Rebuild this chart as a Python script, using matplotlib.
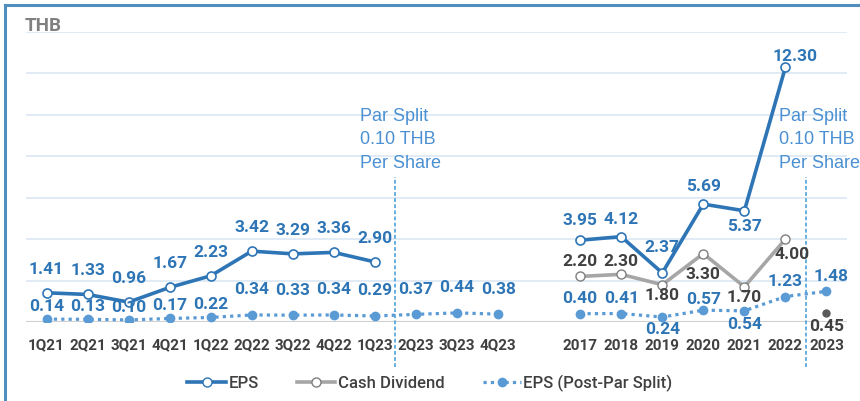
import matplotlib
matplotlib.use("Agg")
import matplotlib.pyplot as plt
import numpy as np
from matplotlib.lines import Line2D

# ---- data ----
quarters = ["1Q21", "2Q21", "3Q21", "4Q21", "1Q22", "2Q22", "3Q22", "4Q22",
            "1Q23", "2Q23", "3Q23", "4Q23"]
years = ["2017", "2018", "2019", "2020", "2021", "2022", "2023"]

eps_q = [1.41, 1.33, 0.96, 1.67, 2.23, 3.42, 3.29, 3.36, 2.90, None, None, None]
eps_y = [3.95, 4.12, 2.37, 5.69, 5.37, 12.30, None]
div_y = [2.20, 2.30, 1.80, 3.30, 1.70, 4.00, None]
div_2023 = 0.45
post_q = [0.14, 0.13, 0.10, 0.17, 0.22, 0.34, 0.33, 0.34, 0.29, 0.37, 0.44, 0.38]
post_y = [0.40, 0.41, 0.24, 0.57, 0.54, 1.23, 1.48]

# ---- label offsets (points) : (dx, dy) ----
eps_q_off = [(0, 17)] * 9
eps_y_off = [(0, 14), (0, 12), (0, 18), (0, 13), (0, -11), (7, 8)]
div_y_off = [(0, 11), (0, 9), (0, -8), (0, -15), (0, -8), (5, -11)]
post_q_off = [(0, 9)] * 5 + [(0, 18)] * 7
post_y_off = [(0, 11), (0, 11), (0, -9), (0, 8), (0, -10), (0, 11), (3, 11)]

EPS_C = "#2e75b6"
POST_C = "#5b9bd5"
DIV_C = "#a6a6a6"
LBL_BLUE = "#2e75b6"
LBL_DARK = "#404040"
SPLIT_C = "#4a90d2"

NUM_FONT = ["Roboto", "DejaVu Sans"]

fig = plt.figure(figsize=(8.6, 4.01), dpi=100)
ax = fig.add_axes([26 / 860, 79 / 401, 821 / 860, 290 / 401])

nq = len(quarters)
xq = np.arange(nq)
xy = np.arange(len(years)) + nq + 1

def to_arr(v):
    return np.array([np.nan if a is None else a for a in v], dtype=float)

ax.set_xlim(-0.5, nq + len(years) + 0.5)
ax.set_ylim(0, 14)
for g in range(2, 15, 2):
    ax.axhline(g, color="#dce7f5", lw=1.2, zorder=0)
ax.axhline(0, color="#d0d0d0", lw=1.5, zorder=0)

for s in ax.spines.values():
    s.set_visible(False)
ax.set_yticks([])
ax.set_xticks(list(xq) + list(xy))
ax.set_xticklabels(quarters + years, fontsize=11, fontweight="bold",
                   color=LBL_DARK, family=NUM_FONT)
ax.tick_params(axis="x", length=0, pad=12)

# lines
ax.plot(xq, to_arr(eps_q), color=EPS_C, lw=2.6, marker="o", ms=6.5,
        mfc="white", mec=EPS_C, mew=1.2, zorder=4)
ax.plot(xy, to_arr(eps_y), color=EPS_C, lw=2.6, marker="o", ms=6.5,
        mfc="white", mec=EPS_C, mew=1.2, zorder=4)
ax.plot(xy, to_arr(div_y), color=DIV_C, lw=2.6, marker="o", ms=6.5,
        mfc="white", mec="#7f7f7f", mew=1.0, zorder=3)
ax.plot([xy[-1]], [div_2023], linestyle="none", marker="o", ms=5,
        color="#595959", zorder=3)
ax.plot(xq, post_q, color=POST_C, lw=2.3, ls=(0, (1, 1.3)), marker="o",
        ms=6, mfc=POST_C, mec=POST_C, zorder=3)
ax.plot(xy, post_y, color=POST_C, lw=2.3, ls=(0, (1, 1.3)), marker="o",
        ms=6, mfc=POST_C, mec=POST_C, zorder=3)

def label(xs, vals, offs, color):
    for x, v, o in zip(xs, vals, offs):
        if v is None:
            continue
        ax.annotate(f"{v:.2f}", (x, v), xytext=o, textcoords="offset points",
                    ha="center", va="center", fontsize=12.5, fontweight="bold",
                    color=color, family=NUM_FONT, zorder=6)

label(xq, eps_q, eps_q_off, LBL_BLUE)
label(xy, eps_y, eps_y_off, LBL_BLUE)
label(xy, div_y, div_y_off, LBL_DARK)
label([xy[-1]], [div_2023], [(0, -10)], LBL_DARK)
label(xq, post_q, post_q_off, LBL_BLUE)
label(xy, post_y, post_y_off, LBL_BLUE)

# par split markers
trans = ax.get_xaxis_transform()
for xv in (8.5, nq + len(years) - 0.5):
    ax.plot([xv, xv], [-0.155, 0.5], transform=trans, color="#3c9ad8",
            lw=1.1, ls=(0, (2.5, 1.5)), clip_on=False, zorder=2)
for xv in (7.64, 17.84):
    ax.text(xv, 10.35, "Par Split\n0.10 THB\nPer Share", ha="left", va="top",
            fontsize=13, color=SPLIT_C, family="Liberation Sans",
            linespacing=1.5)

fig.text(25 / 860, 1 - 26 / 401, "THB", fontsize=13.5, fontweight="bold",
         color="#808080", va="center", ha="left", family=NUM_FONT)

# frame lines (top and left)
fig.add_artist(Line2D([5 / 860, 1], [1 - 5 / 401] * 2, color="#4f8fc0",
                      lw=2.2, transform=fig.transFigure))
fig.add_artist(Line2D([5 / 860] * 2, [0, 1 - 5 / 401], color="#4f8fc0",
                      lw=2.2, transform=fig.transFigure))

handles = [
    Line2D([], [], color=EPS_C, lw=2.6, marker="o", ms=6.5, mfc="white",
           mec=EPS_C),
    Line2D([], [], color=DIV_C, lw=2.6, marker="o", ms=6.5, mfc="white",
           mec="#7f7f7f"),
    Line2D([], [], color=POST_C, lw=2.3, ls=(0, (1, 1.3)), marker="o", ms=6,
           mfc=POST_C, mec=POST_C),
]
fig.legend(handles, ["EPS", "Cash Dividend", "EPS (Post-Par Split)"],
           loc="center", bbox_to_anchor=(0.5, 1 - 383 / 401), ncol=3,
           frameon=False, handlelength=2.3, columnspacing=2.3,
           handletextpad=0.15,
           prop={"family": NUM_FONT, "size": 12, "weight": "medium"})
for t in fig.legends[0].get_texts():
    t.set_color(LBL_DARK)

fig.savefig("out.png", dpi=100)
